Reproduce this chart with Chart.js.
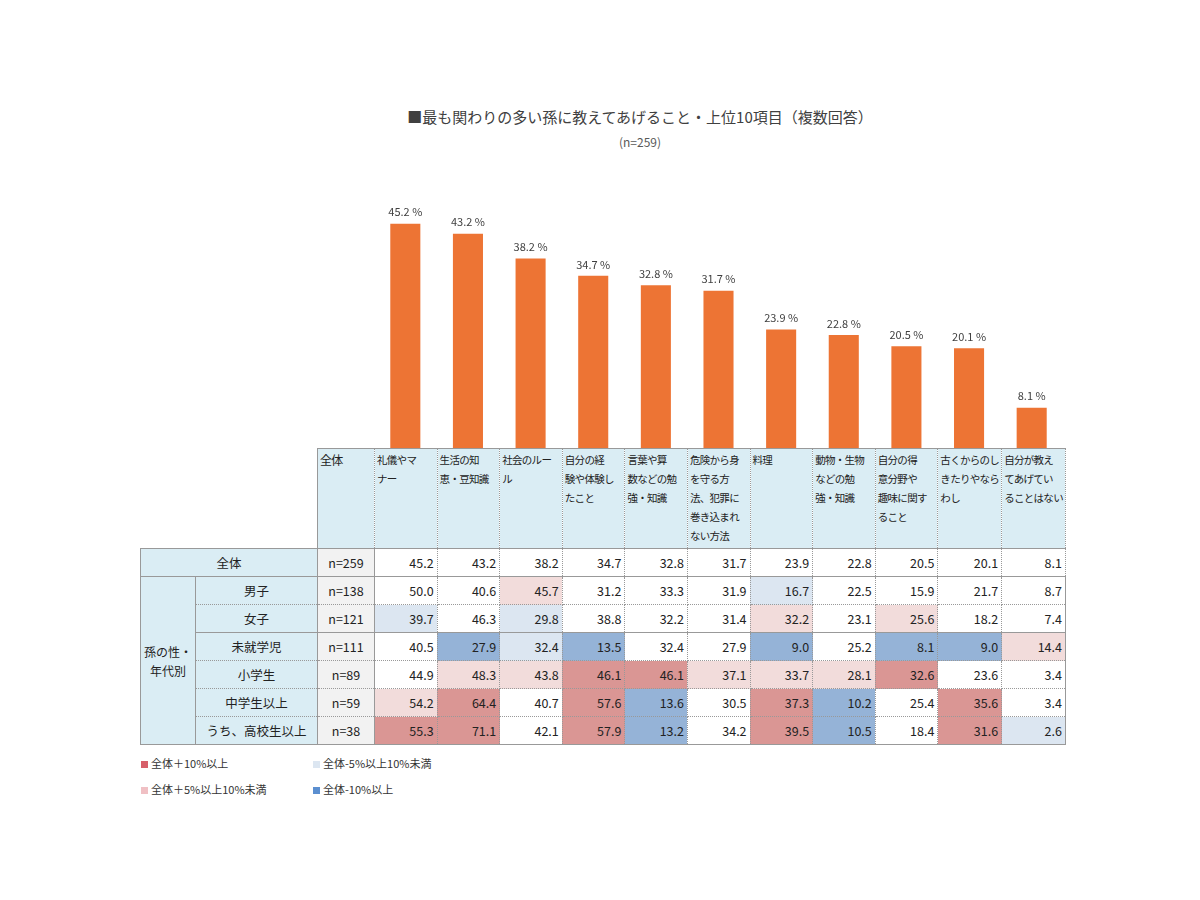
<!DOCTYPE html>
<html><head><meta charset="utf-8">
<script src="https://cdn.jsdelivr.net/npm/chart.js@4.4.0/dist/chart.umd.min.js"></script>
<style>
body{margin:0;width:1200px;height:900px;background:#fff;font-family:"Noto Sans CJK JP","Noto Sans",sans-serif;position:relative;overflow:hidden}
#title{position:absolute;top:106px;left:0;width:1280px;text-align:center;font-size:15px;color:#404040}
#sub{position:absolute;top:133px;left:0;width:1280px;text-align:center;font-size:12px;color:#595959}
#cw{position:absolute;left:374px;top:190px;width:689px;height:258px}
table{position:absolute;left:140px;top:448px;border-collapse:collapse;font-size:12.5px;color:#222;table-layout:fixed}
td{padding:0 3px;height:28px;border:1px dotted #999;box-sizing:border-box;line-height:14px}
td.num{text-align:right}
td.n{background:#f2f2f2;text-align:center;border-left:1px solid #999;border-right:1px solid #999}
td.lab{background:#daedf4;text-align:center}
tr.hd td{background:#daedf4;height:100px;vertical-align:top;text-align:left;font-size:10.5px;letter-spacing:-0.7px;line-height:19px;padding:1px 2px;border-top:1px solid #999;white-space:nowrap;overflow:hidden}
tr.sol td{border-top:1px solid #999}
tr.last td{border-bottom:1px solid #999}
.leg{position:absolute;font-size:11px;color:#333}
.leg i{display:inline-block;width:7px;height:7px;margin-right:3px}
</style></head><body>
<div id="title">■最も関わりの多い孫に教えてあげること・上位10項目（複数回答）</div>
<div id="sub">(n=259)</div>
<div id="cw"><canvas id="c"></canvas></div>
<table id="t"></table>
<div class="leg" style="left:141px;top:755px"><i style="background:#d7606a"></i>全体＋10%以上</div>
<div class="leg" style="left:313px;top:755px"><i style="background:#dce6f1"></i>全体-5%以上10%未満</div>
<div class="leg" style="left:141px;top:781px"><i style="background:#f0c0c4"></i>全体＋5%以上10%未満</div>
<div class="leg" style="left:313px;top:781px"><i style="background:#5b8fd0"></i>全体-10%以上</div>
<script>
const categories=["礼儀やマナー","生活の知恵・豆知識","社会のルール","自分の経験や体験したこと","言葉や算数などの勉強・知識","危険から身を守る方法、犯罪に巻き込まれない方法","料理","動物・生物などの勉強・知識","自分の得意分野や趣味に関すること","古くからのしきたりやならわし","自分が教えてあげていることはない"];
const headerLines=[["礼儀やマ","ナー"],["生活の知","恵・豆知識"],["社会のルー","ル"],["自分の経","験や体験し","たこと"],["言葉や算","数などの勉","強・知識"],["危険から身","を守る方","法、犯罪に","巻き込まれ","ない方法"],["料理"],["動物・生物","などの勉","強・知識"],["自分の得","意分野や","趣味に関す","ること"],["古くからのし","きたりやなら","わし"],["自分が教え","てあげてい","ることはない"]];
const total=[45.2,43.2,38.2,34.7,32.8,31.7,23.9,22.8,20.5,20.1,8.1];
const rowLabels=["男子","女子","未就学児","小学生","中学生以上","うち、高校生以上"];
const rowN=["n=138","n=121","n=111","n=89","n=59","n=38"];
const boys=[50.0,40.6,45.7,31.2,33.3,31.9,16.7,22.5,15.9,21.7,8.7];
const girls=[39.7,46.3,29.8,38.8,32.2,31.4,32.2,23.1,25.6,18.2,7.4];
const preschool=[40.5,27.9,32.4,13.5,32.4,27.9,9.0,25.2,8.1,9.0,14.4];
const elementary=[44.9,48.3,43.8,46.1,46.1,37.1,33.7,28.1,32.6,23.6,3.4];
const juniorHigh=[54.2,64.4,40.7,57.6,13.6,30.5,37.3,10.2,25.4,35.6,3.4];
const highSchool=[55.3,71.1,42.1,57.9,13.2,34.2,39.5,10.5,18.4,31.6,2.6];
const rows=[boys,girls,preschool,elementary,juniorHigh,highSchool];

const W=[55,122,57];const cw=62.6;
let h='<colgroup>'+W.map(w=>`<col style="width:${w}px">`).join('')+categories.map(()=>`<col style="width:${cw}px">`).join('')+'</colgroup>';
h+='<tr class="hd"><td colspan="2" style="background:#fff;border:none;border-bottom:1px solid #999"></td><td style="border-left:1px solid #999;font-size:12px">全体</td>'+headerLines.map(l=>`<td>${l.join('<br>')}</td>`).join('')+'</tr>';
h+='<tr class="sol"><td colspan="2" class="lab" style="border-left:1px solid #999">全体</td><td class="n">n=259</td>'+total.map(v=>`<td class="num">${v.toFixed(1)}</td>`).join('')+'</tr>';
function bg(v,t){const d=v-t;if(d>=10)return'#da9694';if(d>=5)return'#f2dcdb';if(d<=-10)return'#95b3d7';if(d<=-5)return'#dce6f1';return'#fff';}
rows.forEach((r,i)=>{
  let cls=(i==0||i==2)?'sol':'';if(i==5)cls+=' last';
  h+=`<tr class="${cls}">`;
  if(i==0)h+=`<td rowspan="6" class="lab" style="border:1px solid #999;font-size:12px;line-height:19px">孫の性・<br>年代別</td>`;
  h+=`<td class="lab" style="border-right:1px solid #999">${rowLabels[i]}</td><td class="n">${rowN[i]}</td>`;
  h+=r.map((v,j)=>`<td class="num" style="background:${bg(v,total[j])}${j==10?';border-right:1px solid #999':''}">${v.toFixed(1)}</td>`).join('');
  h+='</tr>';
});
document.getElementById('t').innerHTML=h;

const lbl={id:'lbl',afterDatasetsDraw(ch){const c=ch.ctx;c.save();c.font='11px "Noto Sans CJK JP",sans-serif';c.fillStyle='#404040';c.textAlign='center';c.textBaseline='bottom';
ch.getDatasetMeta(0).data.forEach((b,i)=>c.fillText(total[i].toFixed(1)+' %',b.x,b.y-6));c.restore();}};
new Chart(document.getElementById('c'),{type:'bar',data:{labels:categories,datasets:[{data:total,backgroundColor:'#ed7434',barPercentage:0.48,categoryPercentage:1}]},
options:{responsive:true,maintainAspectRatio:false,animation:false,layout:{padding:0},plugins:{legend:{display:false},tooltip:{enabled:false}},
scales:{x:{display:false},y:{display:false,min:0,max:52}}},plugins:[lbl]});
</script></body></html>
